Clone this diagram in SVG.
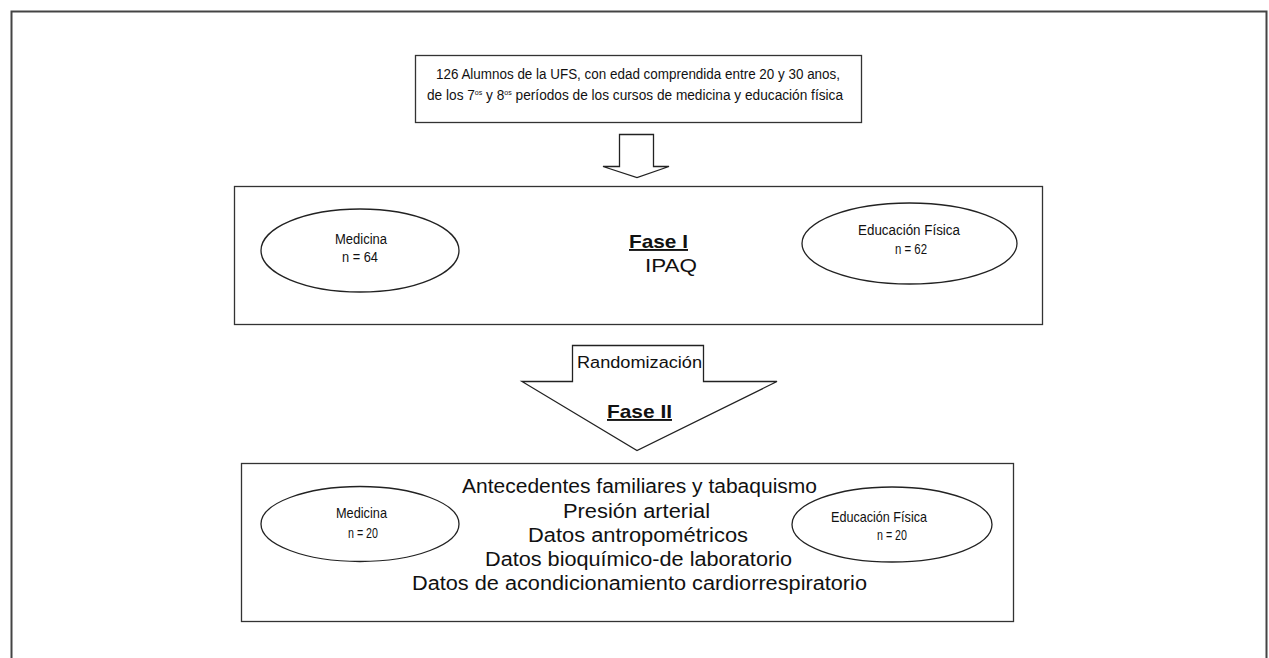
<svg xmlns="http://www.w3.org/2000/svg" width="1269" height="658" viewBox="0 0 1269 658">
<style>
.box{fill:#fff;stroke:#333;stroke-width:1.3}
.ell{fill:#fff;stroke:#222;stroke-width:1.3}
.arr{fill:#fff;stroke:#222;stroke-width:1.3;stroke-linejoin:miter}
text{font-family:"Liberation Sans",Arial,sans-serif;fill:#111}
.n{font-size:15.5px}
.s{font-size:14.5px}
.b{font-size:19px;font-weight:bold;text-decoration:underline}
.l{font-size:19.5px}
</style>
<rect width="1269" height="658" fill="#fff"/>
<path d="M11.5,658 V11.5 H1266.5 V658" fill="none" stroke="#444" stroke-width="2"/>
<g id="top">
<rect class="box" x="415.5" y="55.5" width="446" height="67"/>
<text class="n" x="436" y="79" textLength="404" lengthAdjust="spacingAndGlyphs">126 Alumnos de la UFS, con edad comprendida entre 20 y 30 anos,</text>
<text class="n" x="427" y="100" textLength="416" lengthAdjust="spacingAndGlyphs">de los 7<tspan font-size="8" dy="-5">os</tspan><tspan dy="5"> y 8</tspan><tspan font-size="8" dy="-5">os</tspan><tspan dy="5"> períodos de los cursos de medicina y educación física</tspan></text>
</g>
<g id="connectors">
<path class="arr" d="M619.5,134.5 H653.5 V166.5 H669 L637,177.5 L603,166.5 H619.5 Z"/>
<path class="arr" d="M572.5,345.5 H703.5 V381.5 H777 L637,450.5 L522,381.5 H572.5 Z"/>
<text x="577" y="368" font-size="16" textLength="125" lengthAdjust="spacingAndGlyphs">Randomización</text>
<text class="b" x="607" y="418" textLength="65" lengthAdjust="spacingAndGlyphs">Fase II</text>
</g>
<g id="fase1">
<rect class="box" x="234.5" y="186.5" width="808" height="138"/>
<text class="b" x="629" y="248" textLength="59" lengthAdjust="spacingAndGlyphs">Fase I</text>
<text x="645" y="272" font-size="18.5" textLength="52" lengthAdjust="spacingAndGlyphs">IPAQ</text>
</g>
<g id="med1">
<ellipse class="ell" cx="360" cy="250.5" rx="99" ry="41.5"/>
<text class="n" x="335" y="244" textLength="52" lengthAdjust="spacingAndGlyphs">Medicina</text>
<text class="n" x="342" y="262" textLength="36" lengthAdjust="spacingAndGlyphs">n = 64</text>
</g>
<g id="edu1">
<ellipse class="ell" cx="909.5" cy="243.5" rx="107.5" ry="40.5"/>
<text class="n" x="858" y="235" textLength="102" lengthAdjust="spacingAndGlyphs">Educación Física</text>
<text class="n" x="895" y="254" textLength="32" lengthAdjust="spacingAndGlyphs">n = 62</text>
</g>
<g id="fase2">
<rect class="box" x="241.5" y="463.5" width="772" height="158"/>
<text class="l" x="462" y="493" textLength="355" lengthAdjust="spacingAndGlyphs">Antecedentes familiares y tabaquismo</text>
<text class="l" x="563" y="518" textLength="147" lengthAdjust="spacingAndGlyphs">Presión arterial</text>
<text class="l" x="528" y="542" textLength="220" lengthAdjust="spacingAndGlyphs">Datos antropométricos</text>
<text class="l" x="485" y="566" textLength="307" lengthAdjust="spacingAndGlyphs">Datos bioquímico-de laboratorio</text>
<text class="l" x="412" y="590" textLength="455" lengthAdjust="spacingAndGlyphs">Datos de acondicionamiento cardiorrespiratorio</text>
</g>
<g id="med2">
<ellipse class="ell" cx="360" cy="524" rx="99" ry="37.5"/>
<text class="s" x="336" y="518" textLength="51" lengthAdjust="spacingAndGlyphs">Medicina</text>
<text class="s" x="348" y="538" textLength="30" lengthAdjust="spacingAndGlyphs">n = 20</text>
</g>
<g id="edu2">
<ellipse class="ell" cx="892" cy="524.5" rx="100" ry="37.5"/>
<text class="s" x="831" y="522" textLength="96" lengthAdjust="spacingAndGlyphs">Educación Física</text>
<text class="s" x="877" y="540" textLength="30" lengthAdjust="spacingAndGlyphs">n = 20</text>
</g>
</svg>
